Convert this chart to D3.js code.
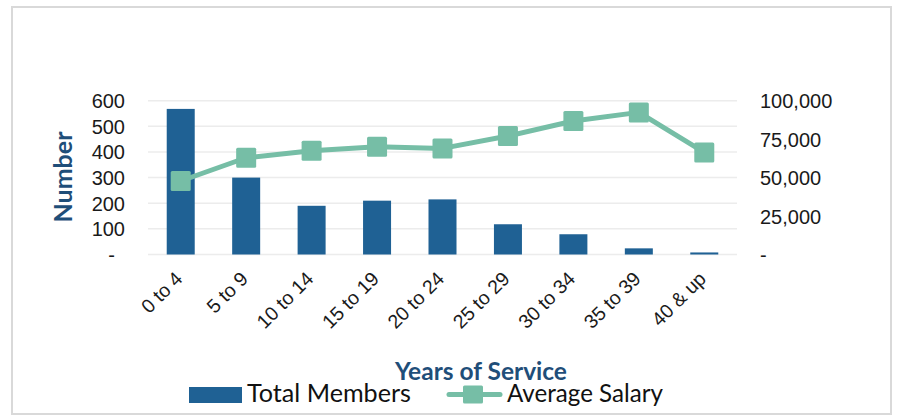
<!DOCTYPE html>
<html>
<head>
<meta charset="utf-8">
<script src="https://cdn.jsdelivr.net/npm/d3@7"></script>
<style>
  html, body { margin: 0; padding: 0; background: #ffffff; }
  svg { display: block; }
</style>
</head>
<body>
<svg id="chart" width="898" height="416"></svg>
<script>
// ---- data ----
const categories = ["0 to 4", "5 to 9", "10 to 14", "15 to 19", "20 to 24", "25 to 29", "30 to 34", "35 to 39", "40 & up"];
const totalMembers = [568, 300, 190, 210, 215, 118, 79, 24, 8];
const averageSalary = [47800, 62900, 67500, 70100, 69000, 77000, 86800, 92400, 66400];
const leftTicks = [0, 100, 200, 300, 400, 500, 600];
const rightTicks = [0, 25000, 50000, 75000, 100000];
const seriesNames = ["Total Members", "Average Salary"];
const xTitle = "Years of Service";
const yTitle = "Number";

// ---- style ----
const barColor = "#1f6194";
const lineColor = "#76bea6";
const titleColor = "#1f4e79";
const gridColor = "#ececec";
const labelFont = "'Liberation Sans', Arial, sans-serif";
const humanFont = "Lato, 'Open Sans', sans-serif";

const svg = d3.select("#chart");

// outer border
svg.append("rect")
  .attr("x", 12).attr("y", 7).attr("width", 879).attr("height", 407)
  .attr("fill", "#fff").attr("stroke", "#d9d9d9").attr("stroke-width", 2);

const plot = { left: 148, right: 737, top: 100.7, bottom: 254.5 };

const x = d3.scaleBand().domain(categories).range([plot.left, plot.right]).paddingInner(0).paddingOuter(0);
const yL = d3.scaleLinear().domain([0, 600]).range([plot.bottom, plot.top]);
const yR = d3.scaleLinear().domain([0, 100000]).range([plot.bottom, plot.top]);

// gridlines
svg.append("g").selectAll("line").data(leftTicks).join("line")
  .attr("x1", plot.left).attr("x2", plot.right)
  .attr("y1", d => yL(d)).attr("y2", d => yL(d))
  .attr("stroke", gridColor).attr("stroke-width", 1.5);

// left axis labels
const fmtL = d => d === 0 ? "-" : d3.format(",")(d);
const leftAxis = d3.axisLeft(yL).tickValues(leftTicks).tickSize(0).tickPadding(0).tickFormat(fmtL);
const gL = svg.append("g").attr("transform", `translate(125,0)`).call(leftAxis);
gL.select(".domain").remove();
gL.selectAll("text")
  .attr("font-family", labelFont).attr("font-size", 20).attr("fill", "#1a1a1a")
  .attr("dy", "0.35em")
  .attr("x", d => d === 0 ? -10 : 0);

// right axis labels
const fmtR = d => d === 0 ? "-" : d3.format(",")(d);
const rightAxis = d3.axisRight(yR).tickValues(rightTicks).tickSize(0).tickPadding(0).tickFormat(fmtR);
const gR = svg.append("g").attr("transform", `translate(760,0)`).call(rightAxis);
gR.select(".domain").remove();
gR.selectAll("text")
  .attr("font-family", labelFont).attr("font-size", 20).attr("fill", "#1a1a1a")
  .attr("dy", "0.35em");

// bars
const barW = 28;
svg.append("g").selectAll("rect").data(categories).join("rect")
  .attr("x", d => x(d) + x.bandwidth() / 2 - barW / 2)
  .attr("width", barW)
  .attr("y", (d, i) => yL(totalMembers[i]))
  .attr("height", (d, i) => yL(0) - yL(totalMembers[i]))
  .attr("fill", barColor);

// line
const line = d3.line()
  .x((d, i) => x(categories[i]) + x.bandwidth() / 2)
  .y(d => yR(d));
svg.append("path").datum(averageSalary)
  .attr("d", line)
  .attr("fill", "none").attr("stroke", lineColor)
  .attr("stroke-width", 5).attr("stroke-linejoin", "round").attr("stroke-linecap", "round");

const mk = 20;
svg.append("g").selectAll("rect").data(averageSalary).join("rect")
  .attr("x", (d, i) => x(categories[i]) + x.bandwidth() / 2 - mk / 2)
  .attr("y", d => yR(d) - mk / 2)
  .attr("width", mk).attr("height", mk).attr("rx", 1.5)
  .attr("fill", lineColor);

// x labels
svg.append("g").selectAll("text").data(categories).join("text")
  .attr("transform", d => `translate(${x(d) + x.bandwidth() / 2 + 3},280) rotate(-45)`)
  .attr("text-anchor", "end")
  .attr("font-family", labelFont).attr("font-size", 19.5).attr("fill", "#1a1a1a")
  .text(d => d);

// helper to fit text to measured width
function fit(sel, target) {
  const w = sel.node().getComputedTextLength();
  const fs = parseFloat(sel.attr("font-size"));
  sel.attr("font-size", fs * target / w);
}

// axis titles
const xt = svg.append("text")
  .attr("x", 481).attr("y", 380).attr("text-anchor", "middle")
  .attr("font-family", humanFont).attr("font-weight", "bold").attr("font-size", 24)
  .attr("fill", titleColor).text(xTitle);
fit(xt, 172);

const yt = svg.append("text")
  .attr("transform", "translate(71.5,177) rotate(-90)")
  .attr("text-anchor", "middle")
  .attr("font-family", humanFont).attr("font-weight", "bold").attr("font-size", 24)
  .attr("fill", titleColor).text(yTitle);
fit(yt, 91);

// legend
const leg = svg.append("g");
leg.append("rect").attr("x", 189).attr("y", 387).attr("width", 53).attr("height", 16).attr("fill", barColor);
const t1 = leg.append("text").attr("x", 247).attr("y", 402)
  .attr("font-family", humanFont).attr("font-size", 24).attr("fill", "#111").text(seriesNames[0]);
fit(t1, 164);

leg.append("line").attr("x1", 449).attr("x2", 500).attr("y1", 394.5).attr("y2", 394.5)
  .attr("stroke", lineColor).attr("stroke-width", 5).attr("stroke-linecap", "round");
leg.append("rect").attr("x", 463).attr("y", 385.5).attr("width", 20).attr("height", 18).attr("rx", 1.5).attr("fill", lineColor);
const t2 = leg.append("text").attr("x", 507).attr("y", 402)
  .attr("font-family", humanFont).attr("font-size", 24).attr("fill", "#111").text(seriesNames[1]);
fit(t2, 156);
</script>
</body>
</html>
